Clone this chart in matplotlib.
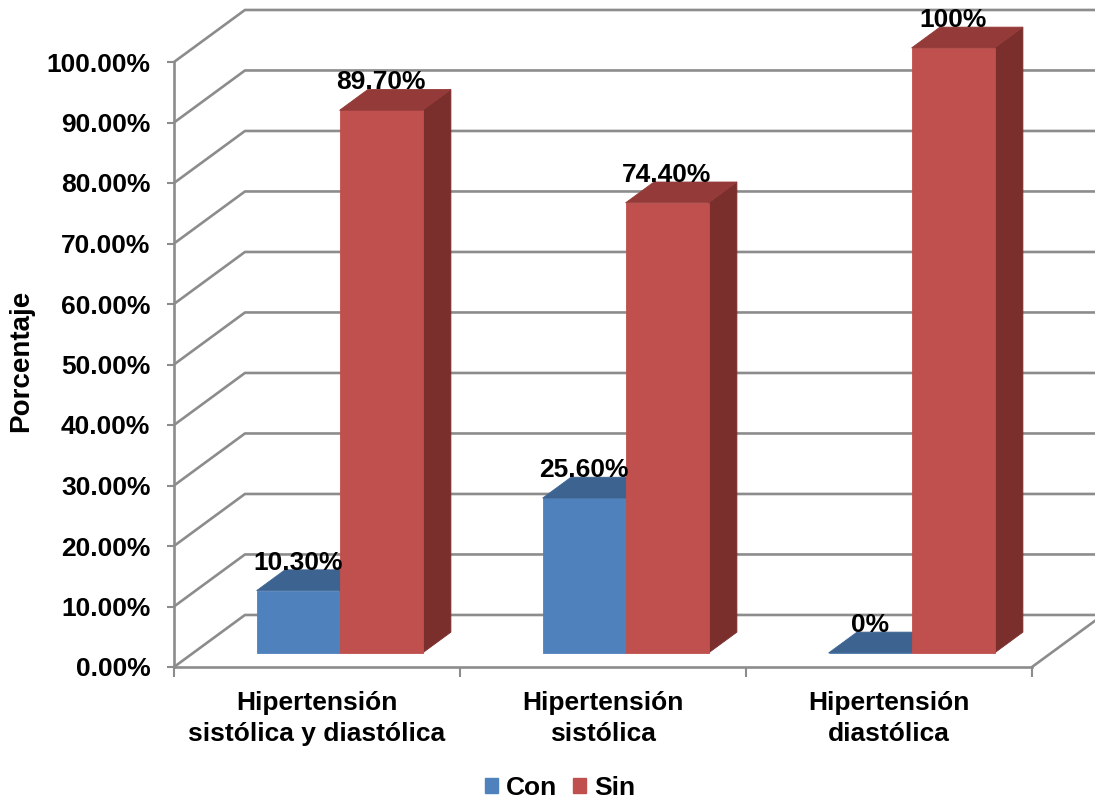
import matplotlib.pyplot as plt
from matplotlib.patches import Patch

plt.rcParams['font.family'] = ['Liberation Sans', 'DejaVu Sans']
plt.rcParams['font.weight'] = 'bold'

# Datos
categorias = ['Hipertensión\nsistólica y diastólica', 'Hipertensión\nsistólica', 'Hipertensión\ndiastólica']
con = [10.3, 25.6, 0]
sin = [89.7, 74.4, 100]
etiquetas_con = ['10.30%', '25.60%', '0%']
etiquetas_sin = ['89.70%', '74.40%', '100%']
yticks = list(range(0, 101, 10))

# Colores (frente, tapa, lateral)
azul = ('#4F81BD', '#3D6491', '#2F4D70')
rojo = ('#C0504D', '#943A38', '#7A2F2D')
gris = '#8C8C8C'

# Desplazamiento de profundidad (unidades de datos)
DX = 0.248
DY = 8.6
D0, D1 = 0.27, 0.67
ANCHO = 0.29

fig = plt.figure(figsize=(10.95, 8.02), dpi=100)
ax = fig.add_axes([174 / 1095, 135 / 802, 858 / 1095, 605 / 802])
ax.set_xlim(0, 3)
ax.set_ylim(0, 100)


def p(x, y, d):
    return (x + d * DX, y + d * DY)


# Pared de fondo y piso
n = len(categorias)
for v in yticks:
    xs, ys = zip(p(0, v, 0), p(0, v, 1), p(n, v, 1))
    ax.plot(xs, ys, color=gris, lw=1.9, clip_on=False, zorder=1, solid_capstyle='butt')
xs, ys = zip(p(n, 0, 0), p(n, 0, 1))
ax.plot(xs, ys, color=gris, lw=1.9, clip_on=False, zorder=1)


def caja(x0, x1, h, colores):
    frente = [p(x0, 0, D0), p(x1, 0, D0), p(x1, h, D0), p(x0, h, D0)]
    tapa = [p(x0, h, D0), p(x1, h, D0), p(x1, h, D1), p(x0, h, D1)]
    lado = [p(x1, 0, D0), p(x1, 0, D1), p(x1, h, D1), p(x1, h, D0)]
    for poly, c in ((lado, colores[2]), (frente, colores[0]), (tapa, colores[1])):
        xs, ys = zip(*poly)
        ax.fill(xs, ys, color=c, lw=0.6, ec=c, clip_on=False, zorder=3)


for i in range(n):
    c = i + 0.512
    caja(c - ANCHO, c, con[i], azul)
    caja(c, c + ANCHO, sin[i], rojo)
    for xc, h, txt in ((c - ANCHO / 2, con[i], etiquetas_con[i]),
                       (c + ANCHO / 2, sin[i], etiquetas_sin[i])):
        tx, ty = p(xc, h, D1)
        ax.text(xc + D0 * DX, ty + 1.2, txt, ha='center', va='center',
                fontsize=19, fontweight='bold', zorder=5, clip_on=False)

# Ejes
for s in ('top', 'right'):
    ax.spines[s].set_visible(False)
for s in ('left', 'bottom'):
    ax.spines[s].set_color(gris)
    ax.spines[s].set_linewidth(1.9)
ax.set_facecolor('none')

ax.set_yticks(yticks)
ax.set_yticklabels([f'{v:.2f}%' for v in yticks], fontsize=19, fontweight='bold')
ax.tick_params(axis='y', length=5, width=1.5, color=gris, pad=12)

ax.set_xticks(range(n + 1))
ax.set_xticklabels([''] * (n + 1))
ax.tick_params(axis='x', which='major', length=7, width=1.5, color=gris)
ax.set_xticks([i + 0.5 for i in range(n)], minor=True)
ax.set_xticklabels(categorias, minor=True, fontsize=19, fontweight='bold', linespacing=1.4)
ax.tick_params(axis='x', which='minor', length=0, pad=17)

ax.set_ylabel('Porcentaje', fontsize=20, fontweight='bold')
ax.yaxis.set_label_coords(-0.163, 0.506)

fig.legend(handles=[Patch(color=azul[0], label='Con'), Patch(color=rojo[0], label='Sin')],
           loc='center', bbox_to_anchor=(560 / 1095, 1 - 788 / 802), ncol=2, frameon=False,
           fontsize=19, handlelength=0.5, handleheight=0.5, handletextpad=0.3, columnspacing=0.6)

fig.savefig('out.png', dpi=100)
